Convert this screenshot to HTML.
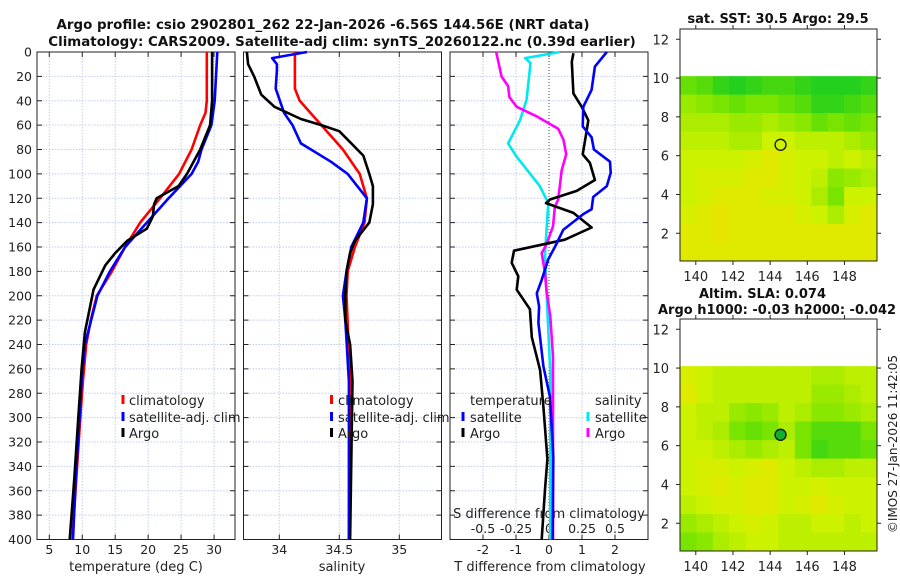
<!DOCTYPE html>
<html><head><meta charset="utf-8">
<style>
html,body{margin:0;padding:0;background:#fff;}
svg{display:block;font-family:"DejaVu Sans","Liberation Sans",sans-serif;}
</style></head>
<body>
<svg id="fig" width="900" height="580" viewBox="0 0 900 580">
<text x="323" y="29" text-anchor="middle" font-size="13.4" font-weight="bold" fill="#111">Argo profile: csio 2902801_262 22-Jan-2026 -6.56S 144.56E (NRT data)</text>
<text x="342" y="46" text-anchor="middle" font-size="13.4" font-weight="bold" fill="#111">Climatology: CARS2009. Satellite-adj clim: synTS_20260122.nc (0.39d earlier)</text>
<text x="778" y="23" text-anchor="middle" font-size="13" font-weight="bold" fill="#111">sat. SST: 30.5 Argo: 29.5</text>
<text x="699" y="298" font-size="13" font-weight="bold" fill="#111">Altim. SLA: 0.074</text>
<text x="658" y="314" font-size="13" font-weight="bold" fill="#111">Argo h1000: -0.03 h2000: -0.042</text>
<text transform="translate(897,444) rotate(-90)" text-anchor="middle" font-size="12" fill="#222">©IMOS 27-Jan-2026 11:42:05</text>
</svg>
<script>
// ---------- data ----------
const depthTicks=[0,20,40,60,80,100,120,140,160,180,200,220,240,260,280,300,320,340,360,380,400];
const tempTicks=[5,10,15,20,25,30];
const salTicks=[34,34.5,35];
const salTickLabels=["34","34.5","35"];
const tdiffTicks=[-2,-1,0,1,2];
const sdiffTicks=[-0.5,-0.25,0,0.25,0.5];
const sdiffTickLabels=["-0.5","-0.25","0","0.25","0.5"];
const lonTicks=[140,142,144,146,148];
const latTicks=[2,4,6,8,10,12];

const tClimDepth=[0,40,50,60,80,100,120,140,160,180,200,220,240,270,300,350,400];
const tClimVal=[28.9,28.9,28.7,27.9,26.6,24.7,21.8,18.8,16.5,14.5,12.2,11.3,10.6,10.1,9.7,9.1,8.5];
const tSatDepth=[0,20,40,60,80,90,100,120,140,160,180,200,240,270,300,350,400];
const tSatVal=[30.5,30.3,30.1,29.6,28.1,27.6,26.6,23.1,19.8,16.5,14.2,12.3,10.4,9.9,9.6,9.0,8.6];
const tArgoDepth=[0,40,60,80,100,110,120,125,135,145,155,165,175,195,230,260,300,350,400];
const tArgoVal=[29.7,29.7,29.4,27.9,25.9,24.6,21.3,20.9,20.7,19.8,16.8,15.0,13.5,11.7,10.4,9.9,9.4,8.8,8.1];

const sClimDepth=[0,30,40,60,80,100,120,140,160,180,200,270,400];
const sClimVal=[34.13,34.13,34.17,34.35,34.53,34.67,34.73,34.71,34.63,34.57,34.56,34.59,34.58];
const sSatDepth=[0,5,10,15,30,50,60,75,90,100,120,140,160,180,200,220,270,400];
const sSatVal=[34.23,33.94,33.98,33.98,33.97,34.04,34.11,34.18,34.43,34.57,34.73,34.70,34.60,34.56,34.53,34.55,34.58,34.58];
const sArgoDepth=[0,10,20,30,35,45,55,60,65,85,100,110,125,140,155,165,180,200,220,240,270,400];
const sArgoVal=[33.73,33.74,33.79,33.83,33.85,33.96,34.18,34.35,34.50,34.70,34.75,34.78,34.78,34.75,34.63,34.59,34.56,34.55,34.55,34.59,34.61,34.59];

const dtSatDepth=[0,12,31,45,61,70,80,90,99,110,119,129,133,146,160,170,187,198,209,222,258,283,332,400];
const dtSatVal=[1.75,1.39,1.29,1.04,1.02,1.29,1.36,1.85,1.87,1.75,1.34,1.29,1.04,0.43,0.18,-0.02,-0.22,-0.37,-0.30,-0.32,-0.17,0.03,0.13,0.11];
const dtArgoDepth=[1,8,34,45,56,65,84,91,105,114,121,124,132,144,154,163,173,184,195,211,234,261,291,334,359,400];
const dtArgoVal=[0.74,0.69,0.74,0.99,1.19,1.14,1.02,1.24,1.39,0.84,0.03,-0.09,0.74,1.29,0.48,-1.06,-1.13,-0.93,-0.98,-0.58,-0.52,-0.27,-0.17,-0.05,-0.12,-0.22];
const dsSatDepth=[0,5,9,39,56,75,86,110,124,148,165,195,263,400];
const dsSatVal=[0.083,-0.18,-0.14,-0.17,-0.22,-0.31,-0.245,-0.07,-0.005,-0.02,-0.03,-0.02,0.01,0.01];
const dsArgoDepth=[0,20,28,37,45,53,63,72,84,97,121,127,143,158,165,181,195,217,250,386,400];
const dsArgoVal=[-0.40,-0.36,-0.31,-0.30,-0.245,-0.09,0.07,0.11,0.13,0.096,0.07,0.045,0.03,-0.02,-0.055,-0.03,-0.02,0.01,0.03,0.03,0.03];

// map grids: rows top (north) -> bottom, 12 columns west -> east; 0 = green, 1 = orange-yellow
const sstGrid=[
[0.30,0.25,0.15,0.10,0.15,0.20,0.20,0.15,0.10,0.10,0.10,0.15],
[0.45,0.40,0.35,0.30,0.35,0.35,0.30,0.25,0.15,0.15,0.20,0.25],
[0.50,0.50,0.50,0.45,0.45,0.50,0.45,0.40,0.30,0.35,0.30,0.35],
[0.55,0.55,0.55,0.50,0.50,0.60,0.60,0.55,0.55,0.55,0.50,0.45],
[0.60,0.60,0.60,0.60,0.65,0.70,0.65,0.60,0.60,0.55,0.60,0.55],
[0.60,0.65,0.65,0.65,0.70,0.70,0.65,0.60,0.55,0.40,0.45,0.50],
[0.60,0.65,0.70,0.70,0.70,0.65,0.65,0.60,0.50,0.35,0.60,0.60],
[0.65,0.70,0.75,0.70,0.70,0.70,0.70,0.65,0.60,0.50,0.65,0.70],
[0.70,0.70,0.75,0.70,0.70,0.70,0.70,0.70,0.70,0.70,0.70,0.70],
[0.70,0.70,0.70,0.70,0.70,0.70,0.70,0.70,0.70,0.70,0.70,0.70]];
const slaGrid=[
[0.65,0.60,0.55,0.55,0.55,0.55,0.55,0.55,0.50,0.50,0.55,0.55],
[0.70,0.60,0.55,0.55,0.55,0.55,0.55,0.55,0.45,0.45,0.50,0.55],
[0.60,0.55,0.55,0.45,0.40,0.45,0.55,0.50,0.40,0.40,0.45,0.50],
[0.60,0.55,0.50,0.35,0.30,0.35,0.50,0.35,0.25,0.25,0.25,0.35],
[0.60,0.60,0.55,0.50,0.45,0.50,0.55,0.35,0.20,0.25,0.25,0.30],
[0.60,0.65,0.65,0.60,0.65,0.70,0.60,0.55,0.50,0.50,0.55,0.55],
[0.60,0.65,0.70,0.65,0.70,0.70,0.60,0.60,0.65,0.60,0.60,0.60],
[0.55,0.60,0.65,0.65,0.70,0.70,0.60,0.65,0.70,0.65,0.60,0.60],
[0.45,0.50,0.55,0.60,0.65,0.60,0.55,0.55,0.60,0.60,0.55,0.60],
[0.35,0.40,0.50,0.55,0.60,0.60,0.55,0.55,0.55,0.55,0.55,0.55]];
const argoLon=144.56, argoLat=6.56;

// ---------- helpers ----------
const NS="http://www.w3.org/2000/svg";
const svg=document.getElementById('fig');
function el(tag,attrs,parent){const e=document.createElementNS(NS,tag);for(const k in attrs)e.setAttribute(k,attrs[k]);(parent||svg).appendChild(e);return e;}
const Y0=52,Y1=539.5;
const yD=d=>Y0+(d/400)*(Y1-Y0);
const xT=t=>49.3+(t-5)*6.59;
const xS=s=>339.3+(s-34.5)*120;
const xDT=t=>549+t*33;
const xDS=s=>549+s*132;
const panels=[{x0:37,x1:235},{x0:243.5,x1:441.5},{x0:450,x1:648}];

function drawPanel(i,xTicks,xf,isDiff){
  const p=panels[i];
  const g=el('g',{});
  
  
  depthTicks.forEach(d=>{
    if(d===0||d===400)return;
    const l=el('line',{x1:p.x0,x2:p.x1,y1:yD(d),y2:yD(d),stroke:'#c4cbef','stroke-width':1,'stroke-dasharray':'1.5,1.5'},g);
    
    
  });
  xTicks.forEach(t=>{
    const x=xf(t);
    const zero=isDiff&&t===0;
    const l=el('line',{x1:x,x2:x,y1:Y0,y2:Y1,stroke:zero?'#444':'#c4cbef','stroke-width':1,'stroke-dasharray':zero?'1,2':'1.5,1.5'},g);
    
    
    el('line',{x1:x,x2:x,y1:Y1,y2:Y1-5,stroke:'#222'},g);
    el('line',{x1:x,x2:x,y1:Y0,y2:Y0+5,stroke:'#222'},g);
  });
  depthTicks.forEach(d=>{
    el('line',{x1:p.x0,x2:p.x0+5,y1:yD(d),y2:yD(d),stroke:'#222'},g);
    el('line',{x1:p.x1,x2:p.x1-5,y1:yD(d),y2:yD(d),stroke:'#222'},g);
  });
  const r=el('rect',{x:p.x0,y:Y0,width:p.x1-p.x0,height:Y1-Y0,fill:'none',stroke:'#222','stroke-width':1},g);
  
  
  return g;
}
function line(depths,vals,xf,color,name,clipId){
  const pts=depths.map((d,i)=>xf(vals[i]).toFixed(1)+','+yD(d).toFixed(1)).join(' ');
  const pl=el('polyline',{points:pts,fill:'none',stroke:color,'stroke-width':2.6,'stroke-linejoin':'round','clip-path':'url(#'+clipId+')'});
  
  
}
const defs=el('defs',{});
panels.forEach((p,i)=>{const c=el('clipPath',{id:'cp'+i},defs);el('rect',{x:p.x0,y:Y0-2,width:p.x1-p.x0,height:Y1-Y0+4},c);});

drawPanel(0,tempTicks,xT,false);
drawPanel(1,salTicks,xS,false);
drawPanel(2,tdiffTicks,xDT,true);

depthTicks.forEach(d=>{
  const t=el('text',{x:32,y:yD(d)+4.5,'text-anchor':'end','font-size':12.5,fill:'#222'});
  t.textContent=d;
  
  
});
function xlabels(ticks,labels,xf,y,name){
  ticks.forEach((v,i)=>{
    const t=el('text',{x:xf(v),y:y,'text-anchor':'middle','font-size':12.5,fill:'#222'});
    t.textContent=labels?labels[i]:v;
    
    
  });
}
xlabels(tempTicks,null,xT,554,'temp-tick-label');
xlabels(salTicks,salTickLabels,xS,554,'salinity-tick-label');
xlabels(tdiffTicks,null,xDT,554,'tdiff-tick-label');
xlabels(sdiffTicks,sdiffTickLabels,xDS,533,'sdiff-tick-label');
function txt(x,y,s,name,anchor,size){const t=el('text',{x:x,y:y,'text-anchor':anchor||'start','font-size':size||13,fill:'#222'});t.textContent=s;return t;}
txt(136,571,'temperature (deg C)','x-axis-title-temperature','middle');
txt(342,571,'salinity','x-axis-title-salinity','middle');
txt(550,571,'T difference from climatology','x-axis-title-tdiff','middle');
txt(549,518,'S difference from climatology','x-axis-title-sdiff','middle');

line(tClimDepth,tClimVal,xT,'#ff0000','temp-climatology-line','cp0');
line(tSatDepth,tSatVal,xT,'#0000ff','temp-satellite-line','cp0');
line(tArgoDepth,tArgoVal,xT,'#000000','temp-argo-line','cp0');
line(sClimDepth,sClimVal,xS,'#ff0000','sal-climatology-line','cp1');
line(sSatDepth,sSatVal,xS,'#0000ff','sal-satellite-line','cp1');
line(sArgoDepth,sArgoVal,xS,'#000000','sal-argo-line','cp1');
line(dsSatDepth,dsSatVal,xDS,'#00e8f0','sdiff-satellite-line','cp2');
line(dsArgoDepth,dsArgoVal,xDS,'#ff00ff','sdiff-argo-line','cp2');
line(dtArgoDepth,dtArgoVal,xDT,'#000000','tdiff-argo-line','cp2');
line(dtSatDepth,dtSatVal,xDT,'#0000ff','tdiff-satellite-line','cp2');

function legEntry(mx,tx,y,color,label,name){
  const m=el('rect',{x:mx-1.5,y:y-10,width:3,height:9,fill:color});
  
  
  txt(tx,y,label,name);
}
legEntry(123,129,405,'#ff0000','climatology','legend-entry-climatology');
legEntry(123,129,422,'#0000ff','satellite-adj. clim','legend-entry-satellite-adj');
legEntry(123,129,438,'#000000','Argo','legend-entry-argo');
legEntry(331.5,338,405,'#ff0000','climatology','legend-entry-climatology-2');
legEntry(331.5,338,422,'#0000ff','satellite-adj. clim','legend-entry-satellite-adj-2');
legEntry(331.5,338,438,'#000000','Argo','legend-entry-argo-2');
txt(470,405,'temperature','legend-title-temperature');
legEntry(463,470,422,'#0000ff','satellite','legend-entry-t-satellite');
legEntry(463,470,438,'#000000','Argo','legend-entry-t-argo');
txt(595,405,'salinity','legend-title-salinity');
legEntry(588,595,422,'#00e8f0','satellite','legend-entry-s-satellite');
legEntry(588,595,438,'#ff00ff','Argo','legend-entry-s-argo');

// ---------- maps ----------
const MX0=680,MX1=877,LON0=139.15,LON1=149.75;
const LAT_BOT=0.57,DLAT_TOP=10.1;
const xLon=l=>MX0+(l-LON0)/(LON1-LON0)*(MX1-MX0);
function cmap(v){
  const stops=[[0,[0,200,40]],[0.35,[120,228,0]],[0.6,[205,242,0]],[0.8,[240,225,0]],[1,[245,195,30]]];
  for(let i=1;i<stops.length;i++){if(v<=stops[i][0]){const a=stops[i-1],b=stops[i],f=(v-a[0])/(b[0]-a[0]);return 'rgb('+a[1].map((c,k)=>Math.round(c+(b[1][k]-c)*f)).join(',')+')';}}
  return 'rgb(245,195,30)';
}
function drawMap(top,bottom,grid,name,filled){
  const yLat=l=>bottom-(l-LAT_BOT)*19.4;
  const g=el('g',{});
  
  
  const rows=grid.length,cols=grid[0].length;
  const dLon=(LON1-LON0)/cols,dLat=(DLAT_TOP-LAT_BOT)/rows;
  grid.forEach((row,r)=>row.forEach((v,c)=>{
    const x=xLon(LON0+c*dLon),x2=xLon(LON0+(c+1)*dLon);
    const y=yLat(DLAT_TOP-r*dLat),y2=yLat(DLAT_TOP-(r+1)*dLat);
    const cell=el('rect',{x:x,y:y,width:x2-x+0.5,height:y2-y+0.5,fill:cmap(v)},g);
    
    
  }));
  const b=el('rect',{x:MX0,y:top,width:MX1-MX0,height:bottom-top,fill:'none',stroke:'#222'},g);
  
  
  latTicks.forEach(l=>{
    const y=yLat(l);
    el('line',{x1:MX0-4,x2:MX0,y1:y,y2:y,stroke:'#222'},g);
    el('line',{x1:MX1,x2:MX1+4,y1:y,y2:y,stroke:'#222'},g);
    const t=el('text',{x:MX0-11,y:y+5,'text-anchor':'end','font-size':13,fill:'#222'},g);
    t.textContent=l;
    
    
  });
  lonTicks.forEach(l=>{
    const x=xLon(l);
    el('line',{x1:x,x2:x,y1:bottom,y2:bottom+4,stroke:'#222'},g);
    el('line',{x1:x,x2:x,y1:top,y2:top-4,stroke:'#222'},g);
    const t=el('text',{x:x,y:bottom+20,'text-anchor':'middle','font-size':13,fill:'#222'},g);
    t.textContent=l;
    
    
  });
  const c=el('circle',{cx:xLon(argoLon),cy:yLat(argoLat),r:5.5,fill:filled?'#10b030':'none',stroke:'#111','stroke-width':1.3},g);
  
  
}
drawMap(29,261,sstGrid,'sst-map',false);
drawMap(319,551,slaGrid,'sla-map',true);
</script>
</body></html>
